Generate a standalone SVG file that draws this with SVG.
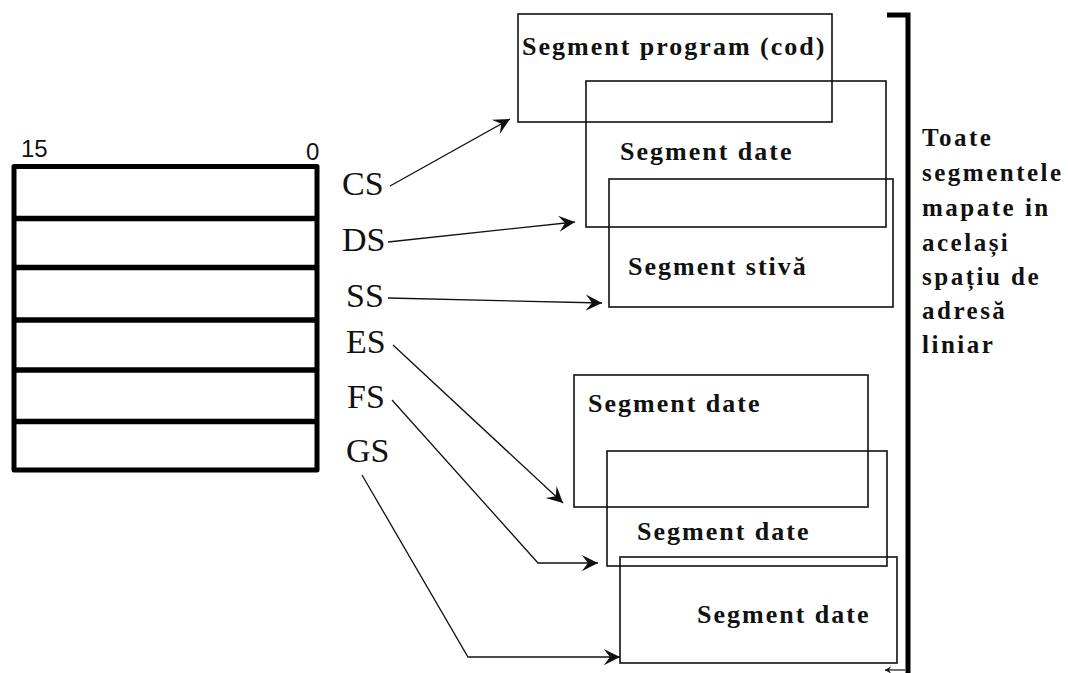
<svg xmlns="http://www.w3.org/2000/svg" width="1068" height="673" viewBox="0 0 1068 673">
  <style>
    .reg { fill: none; stroke: #000; stroke-width: 5; stroke-linejoin: round; }
    .div { stroke: #000; stroke-width: 5.5; }
    .seg { fill: none; stroke: #111; stroke-width: 1.6; }
    .bits { font-family: "Liberation Sans", Arial, sans-serif; font-size: 24px; fill: #111; }
    .rname { font-family: "Liberation Serif", "Times New Roman", serif; font-size: 34px; fill: #111; }
    .slabel { font-family: "Liberation Serif", "Times New Roman", serif; font-size: 26px; font-weight: bold; letter-spacing: 2px; fill: #111; }
    .note { font-family: "Liberation Serif", "Times New Roman", serif; font-size: 25px; font-weight: bold; letter-spacing: 2.5px; fill: #111; }
    .conn { fill: none; stroke: #111; stroke-width: 1.3; marker-end: url(#head); }
    .bracket { fill: none; stroke: #000; stroke-width: 5; }
  </style>
  <defs>
    <marker id="head" markerUnits="userSpaceOnUse" markerWidth="20" markerHeight="20" viewBox="-14 -8 16 16" refX="0" refY="0" orient="auto">
      <path d="M0,0 L-13,-6.5 L-8,0 L-13,6.5 Z" fill="#111"/>
    </marker>
    <marker id="tiny" markerUnits="userSpaceOnUse" markerWidth="10" markerHeight="10" viewBox="-6 -4 8 8" refX="0" refY="0" orient="auto">
      <path d="M0,0 L-5,-3 L-3,0 L-5,3 Z" fill="#111"/>
    </marker>
  </defs>
  <rect width="1068" height="673" fill="#fff"/>

  <!-- 16-bit segment register file -->
  <g id="registers">
    <text class="bits" x="21" y="157">15</text>
    <text class="bits" x="306" y="160">0</text>
    <rect class="reg" x="14" y="166.5" width="303" height="303.5"/>
    <line class="div" x1="14" y1="218.5" x2="317" y2="218.5"/>
    <line class="div" x1="14" y1="267.5" x2="317" y2="267.5"/>
    <line class="div" x1="14" y1="320" x2="317" y2="320"/>
    <line class="div" x1="14" y1="370" x2="317" y2="370"/>
    <line class="div" x1="14" y1="421.5" x2="317" y2="421.5"/>
  </g>

  <!-- register names -->
  <g id="reg-cs"><text class="rname" x="342" y="195">CS</text></g>
  <g id="reg-ds"><text class="rname" x="342" y="251">DS</text></g>
  <g id="reg-ss"><text class="rname" x="346" y="307">SS</text></g>
  <g id="reg-es"><text class="rname" x="346" y="353">ES</text></g>
  <g id="reg-fs"><text class="rname" x="347" y="408">FS</text></g>
  <g id="reg-gs"><text class="rname" x="346" y="462">GS</text></g>

  <!-- segments -->
  <g id="seg-code">
    <rect class="seg" x="518" y="14" width="314" height="108"/>
    <text class="slabel" x="522" y="55">Segment program (cod)</text>
  </g>
  <g id="seg-data1">
    <rect class="seg" x="586" y="81" width="300" height="146"/>
    <text class="slabel" x="620" y="160">Segment date</text>
  </g>
  <g id="seg-stack">
    <rect class="seg" x="609" y="179" width="284" height="128"/>
    <text class="slabel" x="628" y="275">Segment stivă</text>
  </g>
  <g id="seg-data2">
    <rect class="seg" x="574" y="375" width="294" height="132"/>
    <text class="slabel" x="588" y="412">Segment date</text>
  </g>
  <g id="seg-data3">
    <rect class="seg" x="607" y="451" width="280" height="115"/>
    <text class="slabel" x="637" y="540">Segment date</text>
  </g>
  <g id="seg-data4">
    <rect class="seg" x="620" y="557" width="277" height="106"/>
    <text class="slabel" x="697" y="623">Segment date</text>
  </g>

  <!-- linear address space bracket and note -->
  <g id="address-space">
    <path class="bracket" d="M887,15 H908 V673"/>
    <line x1="905" y1="670" x2="885" y2="670" stroke="#111" stroke-width="1.2" marker-end="url(#tiny)"/>
    <text class="note">
      <tspan x="922" y="146">Toate</tspan>
      <tspan x="922" y="181">segmentele</tspan>
      <tspan x="922" y="216">mapate in</tspan>
      <tspan x="922" y="251">același</tspan>
      <tspan x="922" y="285">spațiu de</tspan>
      <tspan x="922" y="319">adresă</tspan>
      <tspan x="922" y="353">liniar</tspan>
    </text>
  </g>

  <!-- connectors from registers to segments -->
  <g id="connectors">
    <line class="conn" x1="390" y1="186" x2="510" y2="119"/>
    <line class="conn" x1="388" y1="242" x2="575" y2="222"/>
    <line class="conn" x1="388" y1="298" x2="602" y2="303"/>
    <line class="conn" x1="393" y1="345" x2="563" y2="503"/>
    <polyline class="conn" points="392,400 538,563 598,563"/>
    <polyline class="conn" points="362,475 468,657 620,657"/>
  </g>
</svg>
